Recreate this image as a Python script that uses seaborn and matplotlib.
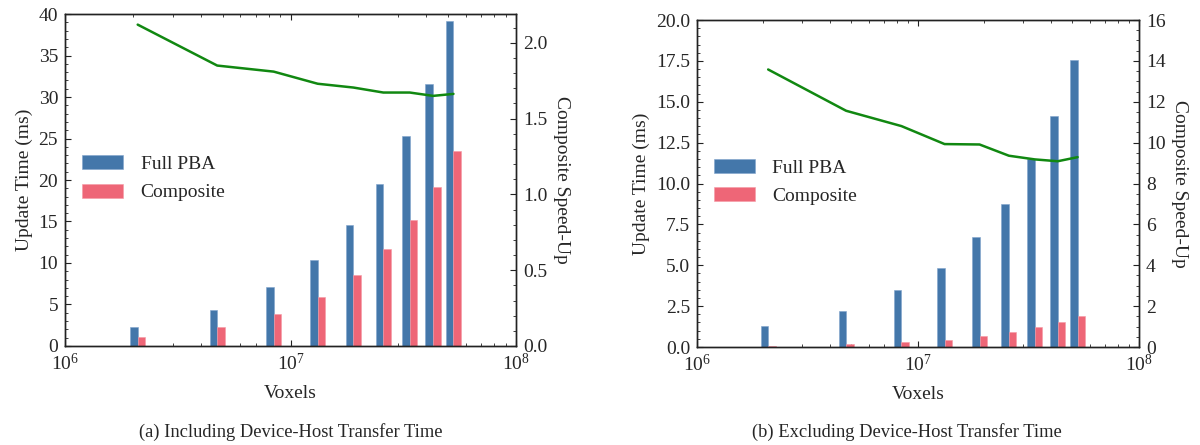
import numpy as np
import seaborn as sns
import matplotlib.pyplot as plt
from matplotlib.ticker import AutoMinorLocator, LogLocator, MultipleLocator

# Data
voxels = [2.1e6, 4.73e6, 8.42e6, 1.32e7, 1.9e7, 2.58e7, 3.38e7, 4.29e7, 5.28e7]

# (a) including device-host transfer time
full_pba_a = [2.25, 4.3, 7.07, 10.36, 14.58, 19.5, 25.3, 31.6, 39.2]
composite_a = [1.04, 2.25, 3.86, 5.94, 8.55, 11.65, 15.2, 19.1, 23.5]
speedup_a = [2.12, 1.85, 1.81, 1.73, 1.705, 1.672, 1.672, 1.65, 1.663]

# (b) excluding device-host transfer time
full_pba_b = [1.29, 2.20, 3.47, 4.84, 6.71, 8.76, 11.49, 14.10, 17.53]
composite_b = [0.08, 0.16, 0.29, 0.45, 0.65, 0.92, 1.22, 1.51, 1.88]
speedup_b = [13.58, 11.56, 10.81, 9.93, 9.91, 9.36, 9.18, 9.09, 9.29]

captions = ['(a) Including Device-Host Transfer Time',
            '(b) Excluding Device-Host Transfer Time']

BLUE = '#4477AA'
PINK = '#EE6677'
GREEN = '#118811'
FS = 14

sns.set_style('ticks')
plt.rcParams['font.family'] = ['Liberation Serif', 'DejaVu Serif']
plt.rcParams['mathtext.fontset'] = 'stix'
plt.rcParams['xtick.direction'] = 'in'
plt.rcParams['ytick.direction'] = 'in'


def draw_panel(ax, full, comp, speed, ylim, rlim, rstep):
    x = np.array(voxels)
    f = 10 ** 0.034
    ax.set_xscale('log')
    ax.bar(x / f, full, width=x - x / f, align='edge', color=BLUE,
           edgecolor='#7fa3cc', linewidth=0.4, label='Full PBA', zorder=2)
    ax.bar(x, comp, width=x * f - x, align='edge', color=PINK,
           edgecolor='#f59aa5', linewidth=0.4, label='Composite', zorder=2)
    ax.set_xlim(1e6, 1e8)
    ax.set_ylim(*ylim)
    ax.set_xlabel('Voxels', fontsize=FS, labelpad=8)
    ax.set_ylabel('Update Time (ms)', fontsize=FS, labelpad=4)
    ax.yaxis.set_minor_locator(AutoMinorLocator())
    ax.xaxis.set_minor_locator(LogLocator(subs=np.arange(2, 10)))
    ax.tick_params(which='both', direction='in', top=True, right=False,
                   labelsize=FS, color='#222222')
    ax.tick_params(which='major', length=4.5, pad=5)
    ax.tick_params(which='minor', length=2.3)
    ax.legend(loc='center left', bbox_to_anchor=(0.038, 0.505), frameon=False,
              fontsize=FS, borderaxespad=0, borderpad=0, handlelength=2.1,
              handleheight=0.72, handletextpad=0.9, labelspacing=0.55)

    ax_r = ax.twinx()
    sns.lineplot(x=voxels, y=speed, ax=ax_r, color=GREEN, linewidth=1.8)
    ax_r.set_ylim(*rlim)
    ax_r.set_ylabel('Composite Speed-Up', fontsize=FS, rotation=270, labelpad=16)
    ax_r.yaxis.set_major_locator(MultipleLocator(rstep))
    ax_r.yaxis.set_minor_locator(AutoMinorLocator())
    ax_r.tick_params(which='both', direction='in', labelsize=FS, color='#222222')
    ax_r.tick_params(which='major', length=4.5, pad=5)
    ax_r.tick_params(which='minor', length=2.3)
    for a in (ax, ax_r):
        for s in a.spines.values():
            s.set_linewidth(1.0)
            s.set_color('#222222')
    return ax_r


fig = plt.figure(figsize=(12, 4.45), dpi=100)
ax_a = fig.add_axes([0.0542, 0.2225, 0.3758, 0.746])
ax_b = fig.add_axes([0.5808, 0.2202, 0.3683, 0.7348])

draw_panel(ax_a, full_pba_a, composite_a, speedup_a, (0, 40), (0, 2.19), 0.5)
draw_panel(ax_b, full_pba_b, composite_b, speedup_b, (0, 20), (0, 16), 2)
ax_b.yaxis.set_major_formatter(plt.FormatStrFormatter('%.1f'))

fig.text(0.242, 0.029, captions[0], ha='center', va='center', fontsize=13.3)
fig.text(0.756, 0.029, captions[1], ha='center', va='center', fontsize=13.3)

fig.savefig('out.png', dpi=100)
